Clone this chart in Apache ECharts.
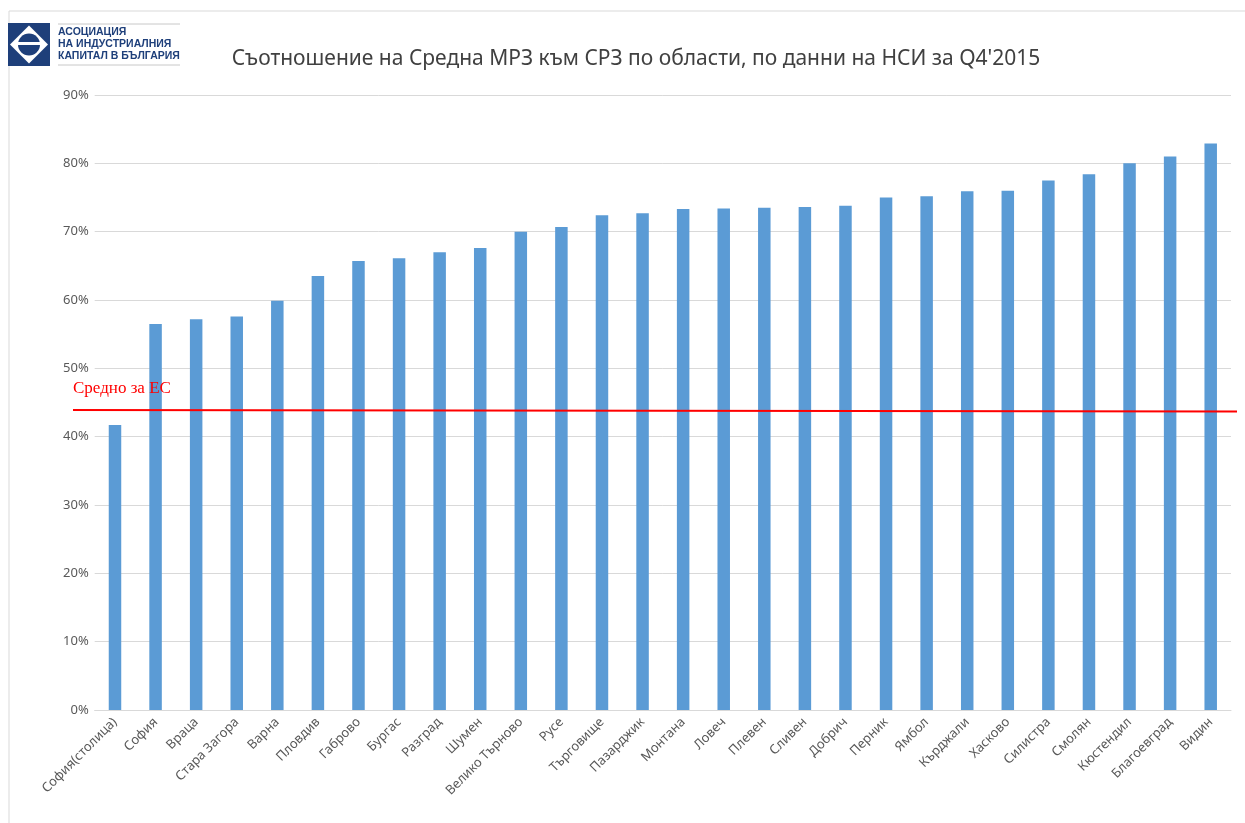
<!DOCTYPE html>
<html>
<head>
<meta charset="utf-8">
<script src="https://cdn.jsdelivr.net/npm/echarts@6/dist/echarts.min.js"></script>
<style>html,body{margin:0;padding:0;background:#fff;}#c{width:1245px;height:823px;}</style>
</head>
<body>
<div id="c"></div>
<script>
const categories = ['София(столица)','София','Враца','Стара Загора','Варна','Пловдив','Габрово','Бургас','Разград','Шумен','Велико Търново','Русе','Търговище','Пазарджик','Монтана','Ловеч','Плевен','Сливен','Добрич','Перник','Ямбол','Кърджали','Хасково','Силистра','Смолян','Кюстендил','Благоевград','Видин'];
const ratioValues = [41.7,56.5,57.2,57.6,59.9,63.5,65.7,66.1,67.0,67.6,70.0,70.7,72.4,72.7,73.3,73.4,73.5,73.6,73.8,75.0,75.2,75.9,76.0,77.5,78.4,80.0,81.0,82.9];
const euAverage = [43.9, 43.7];
const yTicks = [0,10,20,30,40,50,60,70,80,90];
const titleText = "Съотношение на Средна МРЗ към СРЗ по области, по данни на НСИ за Q4'2015";
const euLabel = 'Средно за ЕС';
const logoLines = ['АСОЦИАЦИЯ','НА ИНДУСТРИАЛНИЯ','КАПИТАЛ В БЪЛГАРИЯ'];

const chart = echarts.init(document.getElementById('c'));
const navy = '#1e3f7a';
chart.setOption({
  animation: false,
  backgroundColor: '#fff',
  title: {
    text: titleText, left: 631, top: 44, textAlign: 'center',
    textStyle: {fontFamily: 'Noto Sans', fontSize: 21, fontWeight: 'normal', color: '#404040'}
  },
  grid: [
    {left: 94.7, right: 14, top: 95, bottom: 113},
    {left: 73, right: 8, top: 95, bottom: 113}
  ],
  xAxis: [
    {type: 'category', data: categories, gridIndex: 0,
     axisLine: {lineStyle: {color: '#d9d9d9', width: 1}}, axisTick: {show: false},
     axisLabel: {rotate: 45, interval: 0, color: '#595959', fontFamily: 'Noto Sans', fontSize: 13, margin: 10}},
    {type: 'value', gridIndex: 1, min: 0, max: 1, show: false}
  ],
  yAxis: [
    {type: 'value', gridIndex: 0, min: yTicks[0], max: yTicks[yTicks.length-1], interval: 10,
     axisLine: {show: false}, axisTick: {show: false},
     splitLine: {lineStyle: {color: '#d9d9d9', width: 1}},
     axisLabel: {formatter: '{value}%', color: '#595959', fontFamily: 'Noto Sans', fontSize: 13, margin: 6}},
    {type: 'value', gridIndex: 1, min: 0, max: 90, show: false}
  ],
  series: [
    {type: 'bar', xAxisIndex: 0, yAxisIndex: 0, data: ratioValues, barWidth: 12.5,
     itemStyle: {color: '#5b9bd5'}},
    {type: 'line', xAxisIndex: 1, yAxisIndex: 1, data: [[0, euAverage[0]], [1, euAverage[1]]],
     symbol: 'none', lineStyle: {color: '#ff0000', width: 2}, z: 5}
  ],
  graphic: [
    {type: 'line', shape: {x1: 9, y1: 11, x2: 1245, y2: 11}, style: {stroke: '#d9d9d9', lineWidth: 1}},
    {type: 'line', shape: {x1: 9, y1: 11, x2: 9, y2: 823}, style: {stroke: '#d9d9d9', lineWidth: 1}},
    {type: 'text', left: 73, top: 380, z: 100, style: {text: euLabel, fill: '#ff0000', font: '17px "Liberation Serif", serif'}},
    {type: 'rect', shape: {x: 8, y: 23, width: 42, height: 43}, style: {fill: navy}},
    {type: 'polygon', shape: {points: [[29,25.5],[48,44.5],[29,63.5],[10,44.5]]}, style: {fill: '#fff'}},
    {type: 'circle', shape: {cx: 29, cy: 44.5, r: 11}, style: {fill: navy}},
    {type: 'rect', shape: {x: 17, y: 42, width: 24, height: 3}, style: {fill: '#fff'}},
    {type: 'line', shape: {x1: 58, y1: 24, x2: 180, y2: 24}, style: {stroke: '#c8c8c8', lineWidth: 1}},
    {type: 'line', shape: {x1: 58, y1: 65, x2: 180, y2: 65}, style: {stroke: '#c8c8c8', lineWidth: 1}},
    {type: 'text', left: 58, top: 27, style: {text: logoLines[0], fill: navy, font: 'bold 10.5px "Liberation Sans", Arial'}},
    {type: 'text', left: 58, top: 39, style: {text: logoLines[1], fill: navy, font: 'bold 10.5px "Liberation Sans", Arial'}},
    {type: 'text', left: 58, top: 51, style: {text: logoLines[2], fill: navy, font: 'bold 10.5px "Liberation Sans", Arial'}}
  ]
});
</script>
</body>
</html>
